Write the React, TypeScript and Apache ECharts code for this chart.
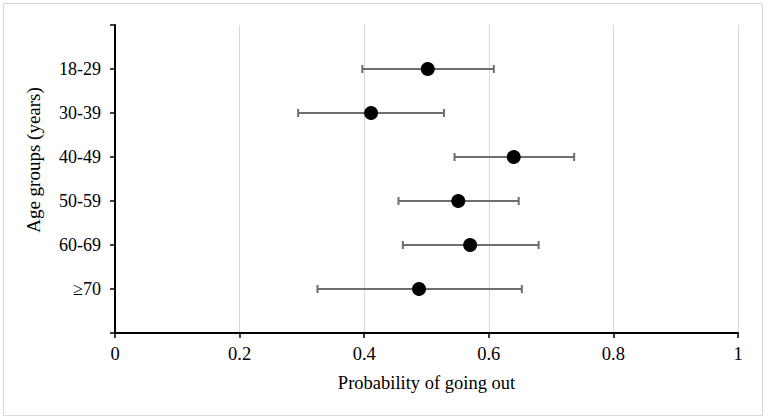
import React, { useEffect, useRef } from "react";
import * as echarts from "echarts";

const categories = ["18-29", "30-39", "40-49", "50-59", "60-69", "≥70"];
const probability = [0.502, 0.411, 0.640, 0.551, 0.570, 0.488];
const lowerCI = [0.397, 0.294, 0.545, 0.455, 0.462, 0.325];
const upperCI = [0.608, 0.528, 0.737, 0.648, 0.680, 0.653];
const xTicks = [0, 0.2, 0.4, 0.6, 0.8, 1];
const xTitle = "Probability of going out";
const yTitle = "Age groups (years)";

const FONT = "'Liberation Serif', 'Times New Roman', serif";

export default function App() {
  const ref = useRef<HTMLDivElement>(null);
  useEffect(() => {
    document.body.style.margin = "0";
    const chart = echarts.init(ref.current!, null, { renderer: "svg" });
    const errData = categories.map((_, i) => [lowerCI[i], upperCI[i], i + 1]);
    const ptData = categories.map((_, i) => [probability[i], i + 1]);
    chart.setOption({
      animation: false,
      backgroundColor: "#ffffff",
      graphic: [
        {
          type: "rect",
          shape: { x: 3.5, y: 3.5, width: 759, height: 412 },
          style: { fill: "none", stroke: "#d9d9d9", lineWidth: 1 },
          silent: true,
        },
        {
          type: "text",
          x: 33,
          y: 160,
          rotation: Math.PI / 2,
          silent: true,
          style: {
            text: yTitle,
            fontFamily: FONT,
            fontSize: 19,
            fill: "#000",
            align: "center",
            verticalAlign: "middle",
          },
        },
      ],
      grid: { left: 115, right: 30, top: 25, bottom: 87, containLabel: false },
      xAxis: {
        type: "value",
        min: 0,
        max: 1,
        interval: 0.2,
        name: xTitle,
        nameLocation: "middle",
        nameGap: 40,
        nameTextStyle: { fontFamily: FONT, fontSize: 18.5, color: "#000" },
        axisLine: { show: true, onZero: false, lineStyle: { color: "#000", width: 2 } },
        axisTick: { show: true, length: 5, lineStyle: { color: "#000", width: 1.5 } },
        axisLabel: {
          fontFamily: FONT,
          fontSize: 18.5,
          color: "#000",
          margin: 11,
          formatter: (v: number) => {
            const t = xTicks.find((x) => Math.abs(x - v) < 1e-9);
            return t === undefined ? "" : String(t);
          },
        },
        splitLine: { show: true, lineStyle: { color: "#d9d9d9", width: 1 } },
      },
      yAxis: {
        type: "value",
        min: 0,
        max: 7,
        interval: 1,
        inverse: true,
        axisLine: { show: true, onZero: false, lineStyle: { color: "#000", width: 2 } },
        axisTick: { show: true, length: 5, lineStyle: { color: "#000", width: 1.5 } },
        axisLabel: {
          fontFamily: FONT,
          fontSize: 18,
          color: "#000",
          margin: 14,
          formatter: (v: number) => categories[Math.round(v) - 1] ?? "",
        },
        splitLine: { show: false },
      },
      series: [
        {
          type: "custom",
          data: errData,
          encode: { x: [0, 1], y: 2 },
          z: 2,
          renderItem: (params: any, api: any) => {
            const lo = api.coord([api.value(0), api.value(2)]);
            const hi = api.coord([api.value(1), api.value(2)]);
            const h = 4;
            const style = { stroke: "#6e6e6e", lineWidth: 2, fill: "none" };
            return {
              type: "group",
              children: [
                { type: "line", shape: { x1: lo[0], y1: lo[1], x2: hi[0], y2: hi[1] }, style },
                { type: "line", shape: { x1: lo[0], y1: lo[1] - h, x2: lo[0], y2: lo[1] + h }, style },
                { type: "line", shape: { x1: hi[0], y1: hi[1] - h, x2: hi[0], y2: hi[1] + h }, style },
              ],
            };
          },
        },
        {
          type: "scatter",
          data: ptData,
          symbol: "circle",
          symbolSize: 14,
          itemStyle: { color: "#000", opacity: 1 },
          z: 3,
        },
      ],
    });
    return () => chart.dispose();
  }, []);
  return <div ref={ref} style={{ position: "fixed", left: 0, top: 0, width: 768, height: 420 }} />;
}
